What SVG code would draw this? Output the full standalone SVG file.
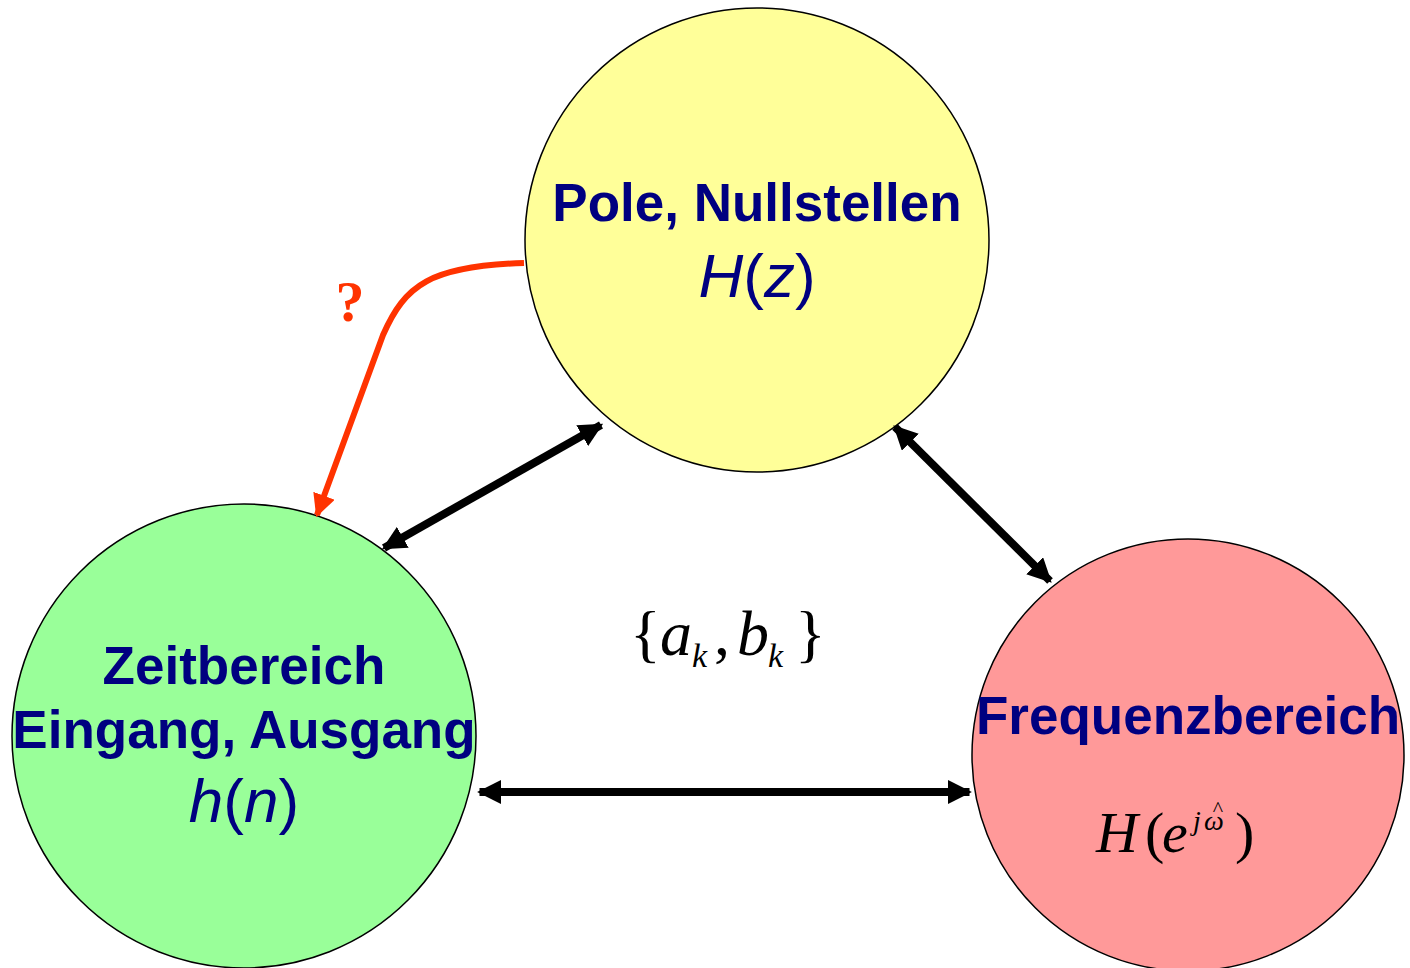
<svg xmlns="http://www.w3.org/2000/svg" width="1410" height="968" viewBox="0 0 1410 968">
<style>
.node{stroke:#000;stroke-width:1.5}
.lbl{font-family:"Liberation Sans",Arial,sans-serif;font-weight:bold;font-size:53px;fill:#000080;text-anchor:middle}
.math{font-family:"Liberation Sans",Arial,sans-serif;font-size:62px;fill:#000080;text-anchor:middle}
.tm{font-family:"Liberation Serif","Times New Roman",serif;fill:#000}
.it{font-style:italic}
.conn{stroke:#000;stroke-width:8;fill:none;marker-start:url(#ah);marker-end:url(#ah)}
</style>
<defs>
<marker id="ah" viewBox="0 0 10 10" refX="9" refY="5" markerWidth="3" markerHeight="3" orient="auto-start-reverse" markerUnits="strokeWidth">
<path d="M0,0 L10,5 L0,10 z" fill="#000"/>
</marker>
<marker id="rah" viewBox="0 0 10 10" refX="9" refY="5" markerWidth="3.8" markerHeight="3.8" orient="auto" markerUnits="strokeWidth">
<path d="M0,0 L10,5 L0,10 z" fill="#FF3300"/>
</marker>
</defs>
<g id="node-pole">
<circle class="node" cx="757" cy="240" r="232" fill="#FFFF99"/>
<text class="lbl" x="757" y="221">Pole, Nullstellen</text>
<text class="math" x="757" y="297"><tspan class="it">H</tspan>(<tspan class="it">z</tspan>)</text>
</g>
<g id="node-zeit">
<circle class="node" cx="244" cy="736" r="232" fill="#99FF99"/>
<text class="lbl" x="244" y="684">Zeitbereich</text>
<text class="lbl" x="244" y="748">Eingang, Ausgang</text>
<text class="math" x="244" y="822"><tspan class="it">h</tspan>(<tspan class="it">n</tspan>)</text>
</g>
<g id="node-freq">
<circle class="node" cx="1188" cy="755" r="216" fill="#FF9999"/>
<text class="lbl" x="1188" y="734">Frequenzbereich</text>
<text class="tm" y="852" font-size="58"><tspan class="it" x="1096">H</tspan><tspan x="1145">(</tspan><tspan class="it" x="1162">e</tspan><tspan class="it" x="1193" y="830" font-size="28">j</tspan><tspan class="it" x="1204" y="830" font-size="28">ω</tspan><tspan x="1235" y="852">)</tspan></text>
<text class="tm" x="1218" y="816" font-size="22" text-anchor="middle">^</text>
</g>
<g id="label-coeffs">
<text class="tm" y="655" font-size="64"><tspan x="630">{</tspan><tspan class="it" x="660">a</tspan><tspan class="it" x="692" y="667" font-size="34">k</tspan><tspan x="714" y="655">,</tspan><tspan class="it" x="737">b</tspan><tspan class="it" x="768" y="667" font-size="34">k</tspan><tspan x="795" y="655">}</tspan></text>
</g>
<g id="connectors">
<line class="conn" x1="384" y1="548" x2="601" y2="425"/>
<line class="conn" x1="895" y1="427" x2="1050" y2="581"/>
<line class="conn" x1="479.5" y1="792" x2="969.5" y2="792"/>
<path d="M524,263 C430,266 405,285 383,335 L317,515" fill="none" stroke="#FF3300" stroke-width="6" marker-end="url(#rah)"/>
<text x="350" y="321" font-family="'Liberation Serif','Times New Roman',serif" font-weight="bold" font-size="58" fill="#FF3300" text-anchor="middle">?</text>
</g>
</svg>
